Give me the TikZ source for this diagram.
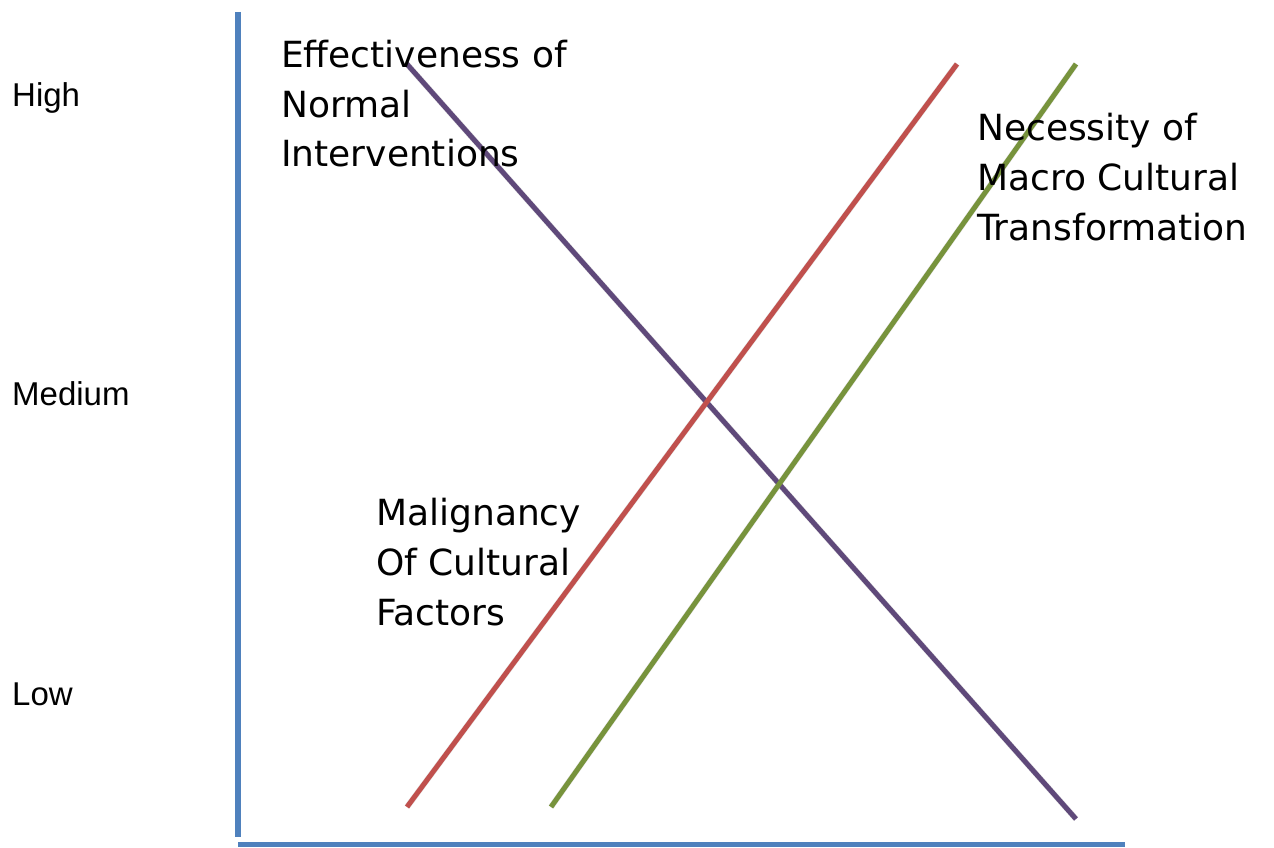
\documentclass[tikz,border=0pt]{standalone}
\usepackage{fontspec}
\setmainfont{DejaVu Sans}
\newfontfamily\axisfont{Liberation Sans}
\definecolor{axisblue}{HTML}{4F81BD}
\definecolor{lred}{HTML}{C0504D}
\definecolor{lgreen}{HTML}{77933C}
\definecolor{lpurple}{HTML}{5F497A}
\begin{document}
\begin{tikzpicture}[x=1pt,y=-1pt,
  axis/.style={draw=axisblue,line width=5.5pt},
  trend/.style={line width=5pt},
  shadowline/.style={line width=6pt,draw=black,opacity=0.1,shift={(2,3)}},
  level/.style={font=\axisfont\fontsize{33}{40}\selectfont,anchor=base west,inner sep=0pt},
  curvelabel/.style={font=\fontsize{36}{50}\selectfont,align=left,anchor=base west,inner sep=0pt}]
\useasboundingbox (0,0) rectangle (1274,848);
% axes
\coordinate (ytop) at (238,12);
\coordinate (origin) at (238,837);
\coordinate (xl) at (238,844.5);
\coordinate (xr) at (1125,844.5);
% curve end points
\coordinate (pA) at (406,63);
\coordinate (pB) at (1076,819);
\coordinate (rA) at (407,807);
\coordinate (rB) at (957,64);
\coordinate (gA) at (551,807);
\coordinate (gB) at (1076,64);
% shadows
\draw[shadowline] (pA) -- (pB);
\draw[shadowline] (rA) -- (rB);
\draw[shadowline] (gA) -- (gB);
\draw[axis] (ytop) -- (origin);
\draw[axis] (xl) -- (xr);
% level labels
\node[level] (high) at (12,107) {High};
\node[level] (medium) at (12,405) {Medium};
\node[level] (low) at (12,705) {Low};
% curves
\draw[trend,draw=lpurple] (pA) -- (pB);
\draw[trend,draw=lred] (rA) -- (rB);
\draw[trend,draw=lgreen] (gA) -- (gB);
% curve labels (anchored at the baseline of their last line)
\node[curvelabel] (eff) at (281,167) {Effectiveness of\\Normal\\Interventions};
\node[curvelabel] (nec) at (977,240) {Necessity of\\Macro Cultural\\Transformation};
\node[curvelabel] (mal) at (376,625) {Malignancy\\Of Cultural\\Factors};
\end{tikzpicture}
\end{document}
